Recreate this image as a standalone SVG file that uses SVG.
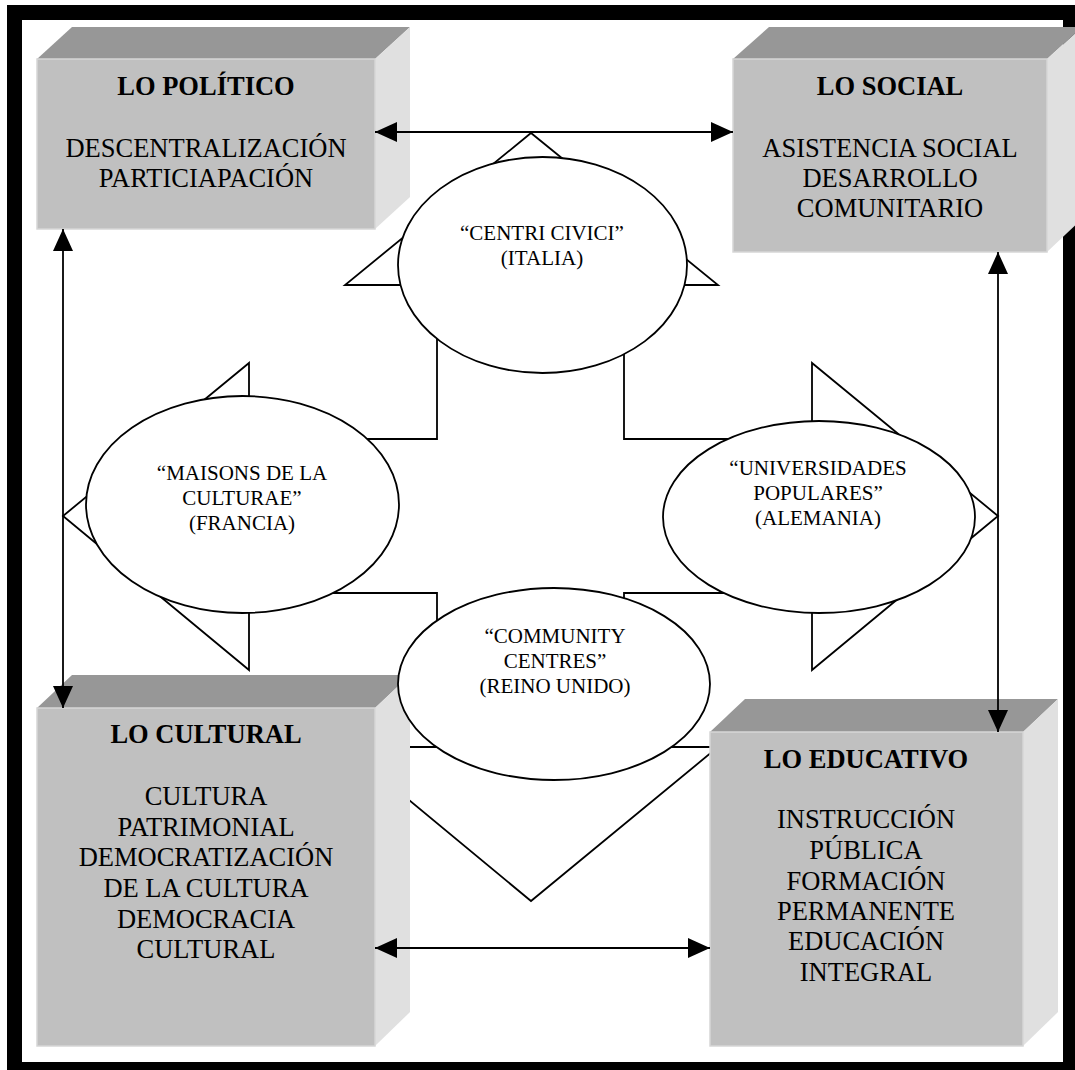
<svg xmlns="http://www.w3.org/2000/svg" width="1075" height="1070" viewBox="0 0 1075 1070">
<style>
.front{fill:#c0c0c0;stroke:#d6d6d6;stroke-width:1.5}
.top{fill:#979797}
.side{fill:#e0e0e0}
.t{font-family:"Liberation Serif","Times New Roman",serif;font-size:26.5px;fill:#000;text-anchor:middle}
.b{font-weight:bold}
.e{font-family:"Liberation Serif","Times New Roman",serif;font-size:21px;fill:#000;text-anchor:middle}
.ell{fill:#fff;stroke:#000;stroke-width:1.8}
.ln{fill:none;stroke:#000;stroke-width:1.8}
.shape{fill:#fff;stroke:#000;stroke-width:1.8}
</style>
<defs>
<marker id="ah" markerUnits="userSpaceOnUse" markerWidth="22" markerHeight="20" refX="22" refY="10" orient="auto-start-reverse" viewBox="0 0 22 20">
<path d="M0,0 L22,10 L0,20 Z" fill="#000"/>
</marker>
</defs>
<rect x="0" y="0" width="1075" height="1070" fill="#fff"/>
<g id="frame">
<path d="M7,5 H1075 V1070 H7 Z M22,20 V1062 H1063 V20 Z" fill="#000" fill-rule="evenodd"/>
</g>
<g id="cross">
<polygon class="shape" points="531,133 718,285 624,285 624,439 812,439 812,363 998,516 812,670 812,593 624,593 624,747 718,747 531,901 345,747 437,747 437,593 249,593 249,670 63,516 249,363 249,439 437,439 437,285 345,285"/>
</g>
<g id="politico">
<polygon class="top" points="37,59 72,27 410,27 375,59"/>
<polygon class="side" points="375,59 410,27 410,197 375,229"/>
<rect class="front" x="37" y="59" width="338" height="170"/>
<text class="t b" x="206" y="95">LO POLÍTICO</text>
<text class="t" x="206" y="157">DESCENTRALIZACIÓN</text>
<text class="t" x="206" y="187">PARTICIAPACIÓN</text>
</g>
<g id="social">
<polygon class="top" points="733,59 769,27 1082,27 1047,59"/>
<polygon class="side" points="1047,59 1082,27 1082,219 1047,252"/>
<rect class="front" x="733" y="59" width="314" height="193"/>
<text class="t b" x="890" y="95">LO SOCIAL</text>
<text class="t" x="890" y="157">ASISTENCIA SOCIAL</text>
<text class="t" x="890" y="187">DESARROLLO</text>
<text class="t" x="890" y="217">COMUNITARIO</text>
</g>
<g id="cultural">
<polygon class="top" points="37,708 72,675 410,675 375,708"/>
<polygon class="side" points="375,708 410,675 410,1012 375,1046"/>
<rect class="front" x="37" y="708" width="338" height="338"/>
<text class="t b" x="206" y="743">LO CULTURAL</text>
<text class="t" x="206" y="805">CULTURA</text>
<text class="t" x="206" y="836">PATRIMONIAL</text>
<text class="t" x="206" y="866">DEMOCRATIZACIÓN</text>
<text class="t" x="206" y="897">DE LA CULTURA</text>
<text class="t" x="206" y="928">DEMOCRACIA</text>
<text class="t" x="206" y="958">CULTURAL</text>
</g>
<g id="educativo">
<polygon class="top" points="710,732 745,699 1058,699 1023,732"/>
<polygon class="side" points="1023,732 1058,699 1058,1012 1023,1046"/>
<rect class="front" x="710" y="732" width="313" height="314"/>
<text class="t b" x="866" y="768">LO EDUCATIVO</text>
<text class="t" x="866" y="828">INSTRUCCIÓN</text>
<text class="t" x="866" y="859">PÚBLICA</text>
<text class="t" x="866" y="890">FORMACIÓN</text>
<text class="t" x="866" y="920">PERMANENTE</text>
<text class="t" x="866" y="950">EDUCACIÓN</text>
<text class="t" x="866" y="981">INTEGRAL</text>
</g>
<g id="connectors">
<line class="ln" x1="375" y1="132" x2="733" y2="132" marker-start="url(#ah)" marker-end="url(#ah)"/>
<line class="ln" x1="63" y1="229" x2="63" y2="708" marker-start="url(#ah)" marker-end="url(#ah)"/>
<line class="ln" x1="998" y1="252" x2="998" y2="732" marker-start="url(#ah)" marker-end="url(#ah)"/>
<line class="ln" x1="375" y1="948" x2="710" y2="948" marker-start="url(#ah)" marker-end="url(#ah)"/>
</g>
<g id="centri">
<ellipse class="ell" cx="542.5" cy="265" rx="144.5" ry="108"/>
<text class="e" x="542" y="240">“CENTRI CIVICI”</text>
<text class="e" x="542" y="265">(ITALIA)</text>
</g>
<g id="maisons">
<ellipse class="ell" cx="242.5" cy="504.5" rx="156.5" ry="108.5"/>
<text class="e" x="242" y="480">“MAISONS DE LA</text>
<text class="e" x="242" y="505">CULTURAE”</text>
<text class="e" x="242" y="530">(FRANCIA)</text>
</g>
<g id="universidades">
<ellipse class="ell" cx="819" cy="517" rx="156" ry="96"/>
<text class="e" x="818" y="475">“UNIVERSIDADES</text>
<text class="e" x="818" y="500">POPULARES”</text>
<text class="e" x="818" y="525">(ALEMANIA)</text>
</g>
<g id="community">
<ellipse class="ell" cx="554" cy="684" rx="156" ry="96"/>
<text class="e" x="555" y="643">“COMMUNITY</text>
<text class="e" x="555" y="668">CENTRES”</text>
<text class="e" x="555" y="693">(REINO UNIDO)</text>
</g>
</svg>
